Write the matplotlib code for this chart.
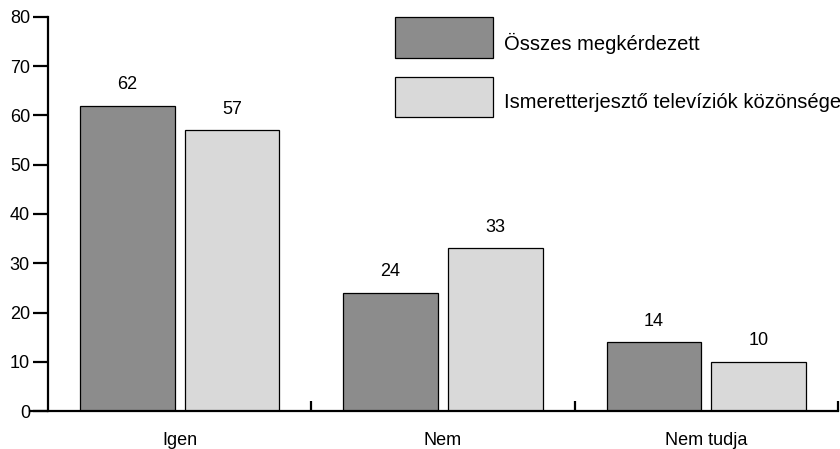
import matplotlib
matplotlib.use("Agg")
import matplotlib.pyplot as plt
from matplotlib.patches import Rectangle

categories = ["Igen", "Nem", "Nem tudja"]
series_names = ["Összes megkérdezett", "Ismeretterjesztő televíziók közönsége"]
all_vals = [62, 24, 14]
tv_vals = [57, 33, 10]
yticks = [0, 10, 20, 30, 40, 50, 60, 70, 80]

plt.rcParams['font.family'] = ['Liberation Sans', 'DejaVu Sans']

W, H = 840, 449
fig = plt.figure(figsize=(W / 100, H / 100), dpi=100)
ax_left, ax_right = 30, 838
ax_top, ax_bot = 17, 411
ax = fig.add_axes([ax_left / W, (H - ax_bot) / H, (ax_right - ax_left) / W, (ax_bot - ax_top) / H])

unit = (838 - 48) / 3
ax.set_xlim(-18 / unit, 3)
ax.set_ylim(0, 80)

fs = 13
dark = "#8c8c8c"
light = "#d9d9d9"
bw = 0.36
gap = 0.038
for i, (a, b) in enumerate(zip(all_vals, tv_vals)):
    c = i + 0.5
    x1 = c - gap / 2 - bw / 2
    x2 = c + gap / 2 + bw / 2
    ax.bar(x1, a, width=bw, color=dark, edgecolor="black", linewidth=0.9, zorder=2)
    ax.bar(x2, b, width=bw, color=light, edgecolor="black", linewidth=0.9, zorder=2)
    ax.text(x1, a + 2.5, str(a), ha="center", va="bottom", fontsize=fs)
    ax.text(x2, b + 2.5, str(b), ha="center", va="bottom", fontsize=fs)

for s in ["top", "right"]:
    ax.spines[s].set_visible(False)
ax.spines["left"].set_position(("data", 0))
ax.spines["left"].set_linewidth(1.6)
ax.spines["bottom"].set_linewidth(1.6)

ax.set_yticks(yticks)
ax.tick_params(axis="y", direction="out", length=11, width=1.6, labelsize=fs, pad=2)
ax.set_xticks([1, 2, 3])
ax.set_xticklabels([])
ax.tick_params(axis="x", which="major", direction="in", length=7, width=1.6)
ax.set_xticks([0.5, 1.5, 2.5], minor=True)
ax.set_xticklabels(categories, minor=True)
ax.tick_params(axis="x", which="minor", length=0, labelsize=fs, pad=15)

# custom legend (figure pixel coords)
def fig_rect(x0, y0, x1, y1, color):
    r = Rectangle((x0 / W, (H - y1) / H), (x1 - x0) / W, (y1 - y0) / H,
                  transform=fig.transFigure, facecolor=color, edgecolor="black",
                  linewidth=0.9)
    fig.add_artist(r)

fig_rect(395, 17, 493, 58, dark)
fig_rect(395, 77, 493, 117, light)
fig.text(504 / W, 1 - 43 / H, series_names[0], fontsize=14.5, ha="left", va="center")
fig.text(504 / W, 1 - 103 / H, series_names[1], fontsize=14.5, ha="left", va="center")

fig.savefig("out.png", dpi=100)
